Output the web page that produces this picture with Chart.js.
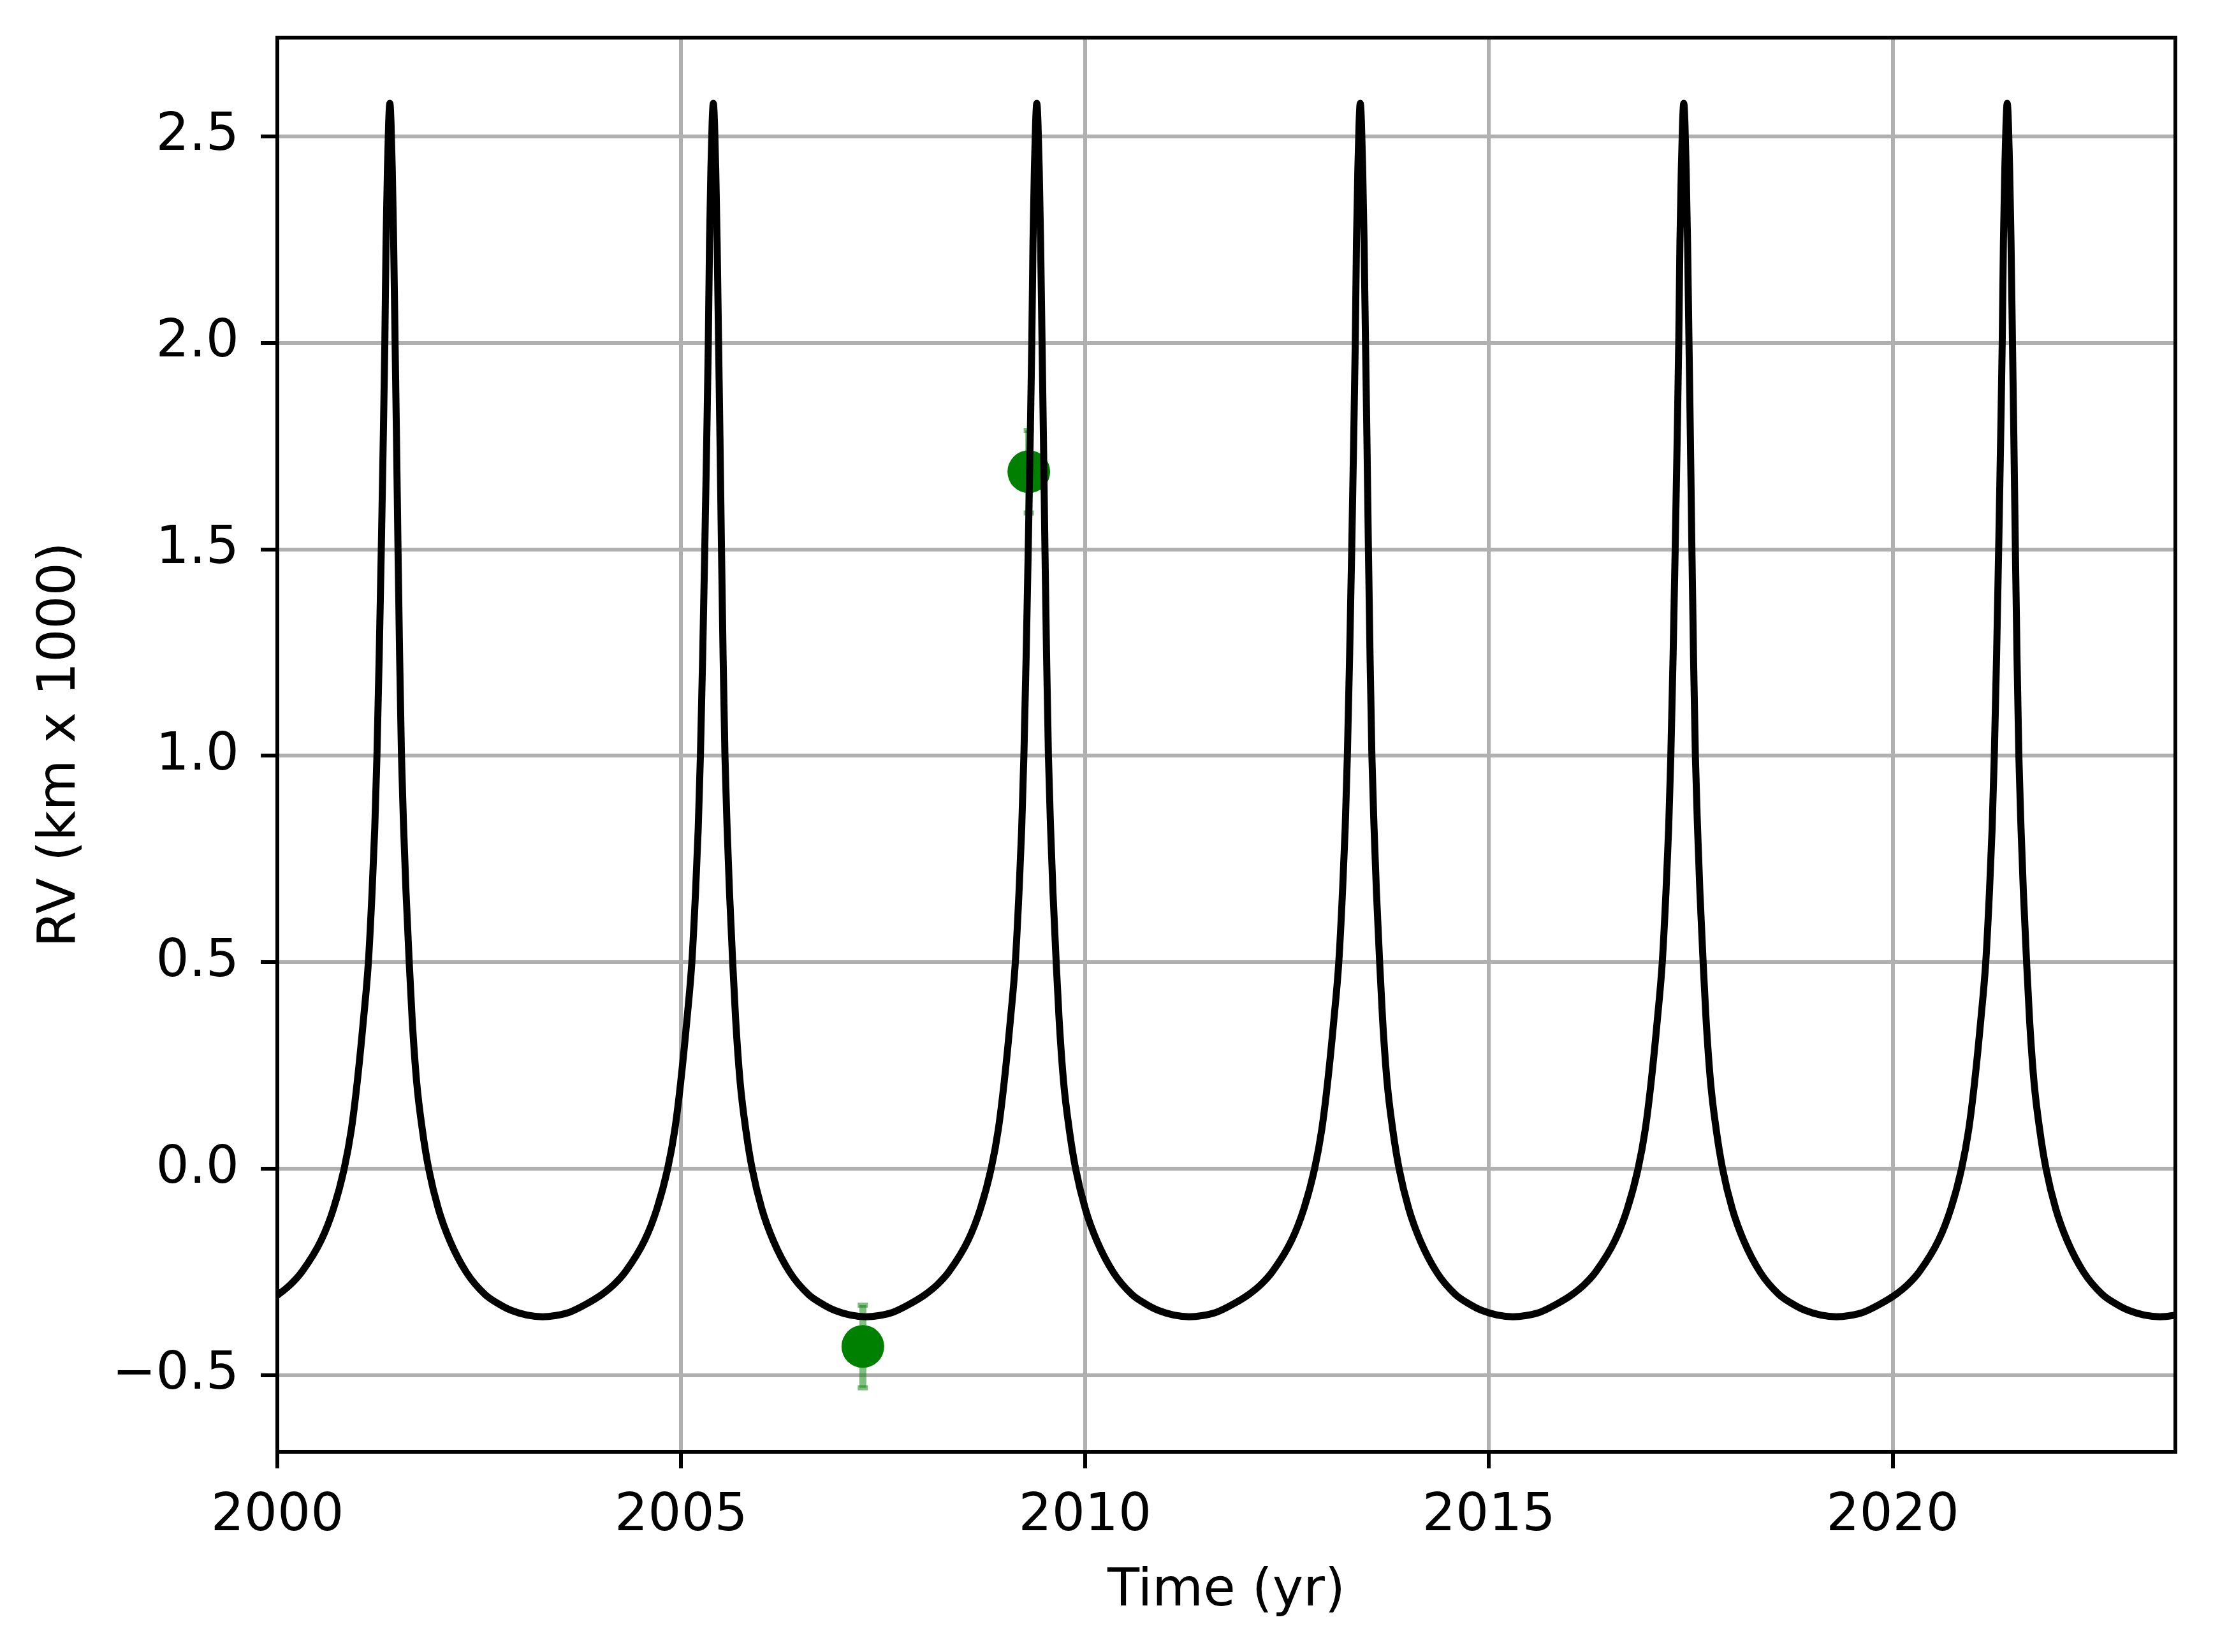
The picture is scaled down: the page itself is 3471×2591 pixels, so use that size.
<!DOCTYPE html>
<html>
<head>
<meta charset="utf-8">
<script src="https://cdn.jsdelivr.net/npm/chart.js@4.4.1/dist/chart.umd.min.js"></script>
<style>
  html, body { margin: 0; padding: 0; background: #ffffff; }
  #rv_chart { display: block; }
</style>
</head>
<body>
<canvas id="rv_chart" width="3471" height="2591"></canvas>
<script>
// model curve (one row per orbit)
const rvTime = [
    1999.277, 1999.443, 1999.613, 1999.813, 2000.013, 2000.163, 2000.305, 2000.545, 2000.694, 2000.827, 2000.916, 2000.989, 2001.067, 2001.127, 2001.173, 2001.206, 2001.233, 2001.261, 2001.287, 2001.312, 2001.331, 2001.346, 2001.363, 2001.378, 2001.393, 2001.408, 2001.423, 2001.440, 2001.458, 2001.475, 2001.494, 2001.514, 2001.537, 2001.564, 2001.593, 2001.633, 2001.669, 2001.725, 2001.795, 2001.874, 2001.994, 2002.136, 2002.342, 2002.571, 2002.733, 2002.901, 2003.093,
    2003.282, 2003.448, 2003.618, 2003.818, 2004.018, 2004.168, 2004.310, 2004.550, 2004.699, 2004.832, 2004.921, 2004.994, 2005.072, 2005.132, 2005.178, 2005.211, 2005.238, 2005.266, 2005.292, 2005.317, 2005.336, 2005.351, 2005.368, 2005.383, 2005.398, 2005.413, 2005.428, 2005.445, 2005.463, 2005.480, 2005.499, 2005.519, 2005.542, 2005.569, 2005.598, 2005.638, 2005.674, 2005.730, 2005.800, 2005.879, 2005.999, 2006.141, 2006.347, 2006.576, 2006.738, 2006.906, 2007.098,
    2007.287, 2007.453, 2007.623, 2007.823, 2008.023, 2008.173, 2008.315, 2008.555, 2008.704, 2008.837, 2008.926, 2008.999, 2009.077, 2009.137, 2009.183, 2009.216, 2009.243, 2009.271, 2009.297, 2009.322, 2009.341, 2009.356, 2009.373, 2009.388, 2009.403, 2009.418, 2009.433, 2009.450, 2009.468, 2009.485, 2009.504, 2009.524, 2009.547, 2009.574, 2009.603, 2009.643, 2009.679, 2009.735, 2009.805, 2009.884, 2010.004, 2010.146, 2010.352, 2010.581, 2010.743, 2010.911, 2011.103,
    2011.292, 2011.458, 2011.628, 2011.828, 2012.028, 2012.178, 2012.320, 2012.560, 2012.709, 2012.842, 2012.931, 2013.004, 2013.082, 2013.142, 2013.188, 2013.221, 2013.248, 2013.276, 2013.302, 2013.327, 2013.346, 2013.361, 2013.378, 2013.393, 2013.408, 2013.423, 2013.438, 2013.455, 2013.473, 2013.490, 2013.509, 2013.529, 2013.552, 2013.579, 2013.608, 2013.648, 2013.684, 2013.740, 2013.810, 2013.889, 2014.009, 2014.151, 2014.357, 2014.586, 2014.748, 2014.916, 2015.108,
    2015.297, 2015.463, 2015.633, 2015.833, 2016.033, 2016.183, 2016.325, 2016.565, 2016.714, 2016.847, 2016.936, 2017.009, 2017.087, 2017.147, 2017.193, 2017.226, 2017.253, 2017.281, 2017.307, 2017.332, 2017.351, 2017.366, 2017.383, 2017.398, 2017.413, 2017.428, 2017.443, 2017.460, 2017.478, 2017.495, 2017.514, 2017.534, 2017.557, 2017.584, 2017.613, 2017.653, 2017.689, 2017.745, 2017.815, 2017.894, 2018.014, 2018.156, 2018.362, 2018.591, 2018.753, 2018.921, 2019.113,
    2019.302, 2019.468, 2019.638, 2019.838, 2020.038, 2020.188, 2020.330, 2020.570, 2020.719, 2020.852, 2020.941, 2021.014, 2021.092, 2021.152, 2021.198, 2021.231, 2021.258, 2021.286, 2021.312, 2021.337, 2021.356, 2021.371, 2021.388, 2021.403, 2021.418, 2021.433, 2021.448, 2021.465, 2021.483, 2021.500, 2021.519, 2021.539, 2021.562, 2021.589, 2021.618, 2021.658, 2021.694, 2021.750, 2021.820, 2021.899, 2022.019, 2022.161, 2022.367, 2022.596, 2022.758, 2022.926, 2023.118,
    2023.307, 2023.473, 2023.643
];
const rvValue = [
    -0.358, -0.355, -0.347, -0.328, -0.304, -0.280, -0.249, -0.172, -0.097, 0.000, 0.095, 0.210, 0.363, 0.500, 0.671, 0.824, 1.000, 1.241, 1.500, 1.773, 2.000, 2.245, 2.420, 2.530, 2.580, 2.530, 2.420, 2.245, 2.000, 1.773, 1.500, 1.241, 1.000, 0.824, 0.671, 0.500, 0.363, 0.210, 0.095, 0.000, -0.097, -0.174, -0.251, -0.304, -0.326, -0.343, -0.354,
    -0.358, -0.355, -0.347, -0.328, -0.304, -0.280, -0.249, -0.172, -0.097, 0.000, 0.095, 0.210, 0.363, 0.500, 0.671, 0.824, 1.000, 1.241, 1.500, 1.773, 2.000, 2.245, 2.420, 2.530, 2.580, 2.530, 2.420, 2.245, 2.000, 1.773, 1.500, 1.241, 1.000, 0.824, 0.671, 0.500, 0.363, 0.210, 0.095, 0.000, -0.097, -0.174, -0.251, -0.304, -0.326, -0.343, -0.354,
    -0.358, -0.355, -0.347, -0.328, -0.304, -0.280, -0.249, -0.172, -0.097, 0.000, 0.095, 0.210, 0.363, 0.500, 0.671, 0.824, 1.000, 1.241, 1.500, 1.773, 2.000, 2.245, 2.420, 2.530, 2.580, 2.530, 2.420, 2.245, 2.000, 1.773, 1.500, 1.241, 1.000, 0.824, 0.671, 0.500, 0.363, 0.210, 0.095, 0.000, -0.097, -0.174, -0.251, -0.304, -0.326, -0.343, -0.354,
    -0.358, -0.355, -0.347, -0.328, -0.304, -0.280, -0.249, -0.172, -0.097, 0.000, 0.095, 0.210, 0.363, 0.500, 0.671, 0.824, 1.000, 1.241, 1.500, 1.773, 2.000, 2.245, 2.420, 2.530, 2.580, 2.530, 2.420, 2.245, 2.000, 1.773, 1.500, 1.241, 1.000, 0.824, 0.671, 0.500, 0.363, 0.210, 0.095, 0.000, -0.097, -0.174, -0.251, -0.304, -0.326, -0.343, -0.354,
    -0.358, -0.355, -0.347, -0.328, -0.304, -0.280, -0.249, -0.172, -0.097, 0.000, 0.095, 0.210, 0.363, 0.500, 0.671, 0.824, 1.000, 1.241, 1.500, 1.773, 2.000, 2.245, 2.420, 2.530, 2.580, 2.530, 2.420, 2.245, 2.000, 1.773, 1.500, 1.241, 1.000, 0.824, 0.671, 0.500, 0.363, 0.210, 0.095, 0.000, -0.097, -0.174, -0.251, -0.304, -0.326, -0.343, -0.354,
    -0.358, -0.355, -0.347, -0.328, -0.304, -0.280, -0.249, -0.172, -0.097, 0.000, 0.095, 0.210, 0.363, 0.500, 0.671, 0.824, 1.000, 1.241, 1.500, 1.773, 2.000, 2.245, 2.420, 2.530, 2.580, 2.530, 2.420, 2.245, 2.000, 1.773, 1.500, 1.241, 1.000, 0.824, 0.671, 0.500, 0.363, 0.210, 0.095, 0.000, -0.097, -0.174, -0.251, -0.304, -0.326, -0.343, -0.354,
    -0.358, -0.355, -0.347
];

// measured points
const obsTime = [2007.249, 2009.304];
const obsRV = [-0.430, 1.688];
const obsErr = [0.100, 0.100];

const xTicks = [2000, 2005, 2010, 2015, 2020];
const xTickLabels = ['2000', '2005', '2010', '2015', '2020'];
const yTicks = [-0.5, 0.0, 0.5, 1.0, 1.5, 2.0, 2.5];
const yTickLabels = ['\u22120.5', '0.0', '0.5', '1.0', '1.5', '2.0', '2.5'];

const fontMain = { family: 'DejaVu Sans', size: 82 };

// error bars under the dots
const errorBars = {
    id: 'errorBars',
    beforeDatasetsDraw(chart) {
        const { ctx, scales: { x, y } } = chart;
        ctx.save();
        ctx.strokeStyle = 'rgba(0, 128, 0, 0.5)';
        obsTime.forEach((t, i) => {
            const px = x.getPixelForValue(t);
            const top = y.getPixelForValue(obsRV[i] + obsErr[i]);
            const bot = y.getPixelForValue(obsRV[i] - obsErr[i]);
            ctx.lineWidth = 11;
            ctx.beginPath();
            ctx.moveTo(px, top);
            ctx.lineTo(px, bot);
            ctx.stroke();
            ctx.lineWidth = 8;
            [top, bot].forEach(py => {
                ctx.beginPath();
                ctx.moveTo(px - 8, py);
                ctx.lineTo(px + 8, py);
                ctx.stroke();
            });
        });
        ctx.restore();
    }
};

// box round the plot, over the curve
const spines = {
    id: 'spines',
    afterDatasetsDraw(chart) {
        const { ctx, chartArea: a } = chart;
        ctx.save();
        ctx.strokeStyle = '#000000';
        ctx.lineWidth = 6;
        ctx.strokeRect(a.left, a.top, a.right - a.left, a.bottom - a.top);
        ctx.restore();
    }
};

const ctx_rv = document.getElementById('rv_chart');
if (ctx_rv) {
    new Chart(ctx_rv, {
        type: 'scatter',
        data: {
            datasets: [
                {
                    type: 'line',
                    data: rvTime.map((t, i) => ({ x: t, y: rvValue[i] })),
                    borderColor: '#000000',
                    borderWidth: 11,
                    borderJoinStyle: 'round',
                    pointRadius: 0,
                    fill: false,
                    cubicInterpolationMode: 'monotone',
                    order: 0
                },
                {
                    data: obsTime.map((t, i) => ({ x: t, y: obsRV[i] })),
                    backgroundColor: '#008000',
                    borderWidth: 0,
                    pointRadius: 33.5,
                    order: 1
                }
            ]
        },
        options: {
            responsive: false,
            animation: false,
            devicePixelRatio: 1,
            layout: { padding: { top: 59, right: 59, left: 0, bottom: 0 } },
            plugins: {
                legend: { display: false },
                tooltip: { enabled: false }
            },
            scales: {
                x: {
                    type: 'linear',
                    min: 2000,
                    max: 2023.5,
                    afterBuildTicks: (scale) => { scale.ticks = xTicks.map(v => ({ value: v })); },
                    afterFit: (scale) => {
                        scale.height = 314;
                        scale.paddingLeft = 0;
                        scale.paddingRight = 0;
                    },
                    border: { display: false },
                    grid: {
                        color: '#b0b0b0',
                        lineWidth: 6,
                        drawTicks: true,
                        tickLength: 26,
                        tickWidth: 6,
                        tickColor: '#000000'
                    },
                    ticks: {
                        autoSkip: false,
                        maxRotation: 0,
                        padding: 27,
                        color: '#000000',
                        font: fontMain,
                        callback: (value, index) => xTickLabels[index]
                    },
                    title: {
                        display: true,
                        text: 'Time (yr)',
                        color: '#000000',
                        font: fontMain,
                        padding: { top: 0, bottom: 45 }
                    }
                },
                y: {
                    type: 'linear',
                    min: -0.685,
                    max: 2.739,
                    afterBuildTicks: (scale) => { scale.ticks = yTicks.map(v => ({ value: v })); },
                    afterFit: (scale) => {
                        scale.width = 435;
                        scale.paddingTop = 0;
                        scale.paddingBottom = 0;
                    },
                    border: { display: false },
                    grid: {
                        color: '#b0b0b0',
                        lineWidth: 6,
                        drawTicks: true,
                        tickLength: 26,
                        tickWidth: 6,
                        tickColor: '#000000'
                    },
                    ticks: {
                        autoSkip: false,
                        padding: 34,
                        color: '#000000',
                        font: fontMain,
                        callback: (value, index) => yTickLabels[index]
                    },
                    title: {
                        display: true,
                        text: 'RV (km x 1000)',
                        color: '#000000',
                        font: fontMain,
                        padding: { top: 47, bottom: 0 }
                    }
                }
            }
        },
        plugins: [errorBars, spines]
    });
}
</script>
</body>
</html>
